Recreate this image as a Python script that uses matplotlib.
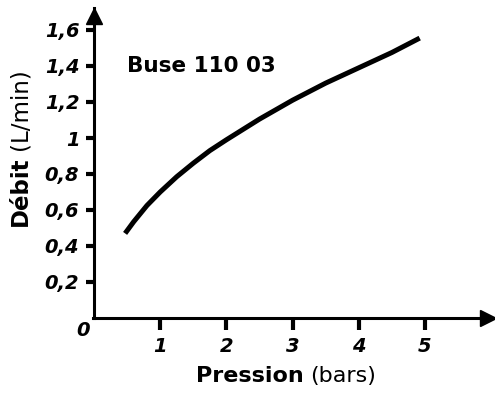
import matplotlib
matplotlib.use("Agg")
import matplotlib.pyplot as plt

# Nozzle flow rate vs. pressure (Buse 110 03)
pression = [0.47, 0.6, 0.8, 1.0, 1.25, 1.5, 1.75, 2.0, 2.5, 3.0, 3.5, 4.0, 4.5, 4.92]
debit = [0.47, 0.535, 0.625, 0.70, 0.785, 0.86, 0.93, 0.99, 1.105, 1.21, 1.305, 1.39, 1.475, 1.555]

x_ticks = [1, 2, 3, 4, 5]
x_tick_labels = ["1", "2", "3", "4", "5"]
y_ticks = [0.2, 0.4, 0.6, 0.8, 1.0, 1.2, 1.4, 1.6]
y_tick_labels = ["0,2", "0,4", "0,6", "0,8", "1", "1,2", "1,4", "1,6"]

FONT = "DejaVu Sans"
W, H = 495, 395

fig = plt.figure(figsize=(W / 100, H / 100), dpi=100)
# axes placed in pixel units: origin at (93, 318), 66.2 px per bar, 180 px per L/min
x0, y0 = 93, 318
xmin, xmax = -0.015, 6.0
ymax = 1.72
ax_w = (xmax - xmin) * 66.2
ax_h = ymax * 180
ax = fig.add_axes([x0 / W, (H - y0) / H, ax_w / W, ax_h / H])
ax.set_xlim(xmin, xmax)
ax.set_ylim(0, ymax)

ax.plot(pression, debit, color="black", lw=3.6, solid_capstyle="butt",
        solid_joinstyle="round")

for s in ["top", "right"]:
    ax.spines[s].set_visible(False)
for s in ["left", "bottom"]:
    ax.spines[s].set_linewidth(2.2)
ax.spines["left"].set_position(("data", 0))

# arrow heads at the axis ends
ax.plot(0.993, 0, ">k", ms=11, transform=ax.get_yaxis_transform(), clip_on=False)
ax.plot(0, 0.977, "^k", ms=11, transform=ax.get_xaxis_transform(), clip_on=False)

ax.set_xticks(x_ticks)
ax.set_xticklabels(x_tick_labels)
ax.set_yticks(y_ticks)
ax.set_yticklabels(y_tick_labels)
ax.tick_params(axis="x", direction="out", length=8.5, width=3, pad=5)
ax.tick_params(axis="y", direction="out", length=6, width=3, pad=4.5)
for lab in ax.get_xticklabels() + ax.get_yticklabels():
    lab.set_fontfamily(FONT)
    lab.set_fontweight("bold")
    lab.set_fontstyle("italic")
    lab.set_fontsize(14)

fig.text(90 / W, 1 - 331 / H, "0", ha="right", va="center", fontsize=14,
         fontfamily=FONT, fontweight="bold", fontstyle="italic")

ax.text(0.5, 1.40, "Buse 110 03", ha="left", va="center", fontsize=15.5,
        fontfamily=FONT, fontweight="bold")

# x label: bold word + regular unit
fig.text(304 / W, 1 - 376 / H, "Pression", ha="right", va="center",
         fontsize=16, fontfamily=FONT, fontweight="bold")
fig.text(310 / W, 1 - 376 / H, "(bars)", ha="left", va="center",
         fontsize=16, fontfamily=FONT)

# y label: bold word + regular unit (rotated)
fig.text(20 / W, 1 - 157 / H, "Débit", ha="center", va="top", rotation=90,
         fontsize=16.5, fontfamily=FONT, fontweight="bold")
fig.text(20 / W, 1 - 150 / H, "(L/min)", ha="center", va="bottom", rotation=90,
         fontsize=16.5, fontfamily=FONT)

fig.savefig("out.png", dpi=100)
